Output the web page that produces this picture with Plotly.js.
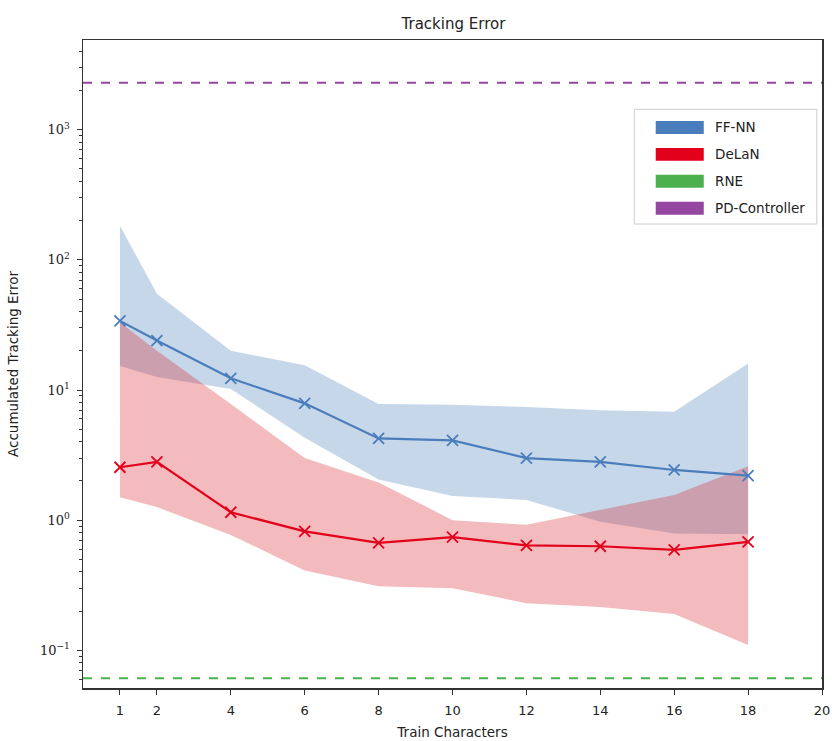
<!DOCTYPE html>
<html>
<head>
<meta charset="utf-8">
<script src="https://cdn.plot.ly/plotly-3.0.1.min.js"></script>
<style>html,body{margin:0;padding:0;background:#fff;}#chart{width:832px;height:741px;}</style>
</head>
<body>
<div id="chart"></div>
<script>
// ---- data ----
const trainChars = [1, 2, 4, 6, 8, 10, 12, 14, 16, 18];
const ffnnMean  = [34, 24, 12.3, 7.9, 4.25, 4.1, 3.0, 2.8, 2.43, 2.2];
const ffnnUpper = [183, 55, 20, 15.5, 7.8, 7.7, 7.4, 7.0, 6.8, 16];
const ffnnLower = [15.3, 12.6, 10.2, 4.3, 2.05, 1.53, 1.43, 0.97, 0.79, 0.78];
const delanMean  = [2.55, 2.8, 1.15, 0.82, 0.67, 0.74, 0.64, 0.63, 0.59, 0.68];
const delanUpper = [33, 20, 7.8, 3.0, 1.95, 1.0, 0.92, 1.2, 1.56, 2.6];
const delanLower = [1.5, 1.26, 0.77, 0.41, 0.31, 0.3, 0.23, 0.215, 0.19, 0.11];
const rneValue = 0.061;
const pdValue = 2300;
const xRange = [0, 20];
const xTicks = [1, 2, 4, 6, 8, 10, 12, 14, 16, 18, 20];
const yTickVals = [0.1, 1, 10, 100, 1000];
const yTickText = ['10<sup>−1</sup>', '10<sup>0</sup>', '10<sup>1</sup>', '10<sup>2</sup>', '10<sup>3</sup>'];
const legendNames = ['FF-NN', 'DeLaN', 'RNE', 'PD-Controller'];

// ---- styles ----
const cBlue = '#4a7dbb', cRed = '#e3001b', cGreen = '#4cb04f', cPurple = '#9446a0';
const fBlue = 'rgba(74,125,187,0.31)', fRed = 'rgba(215,30,40,0.3)';

const minorVals = [];
for (let e = -2; e <= 3; e++) for (let m = 2; m <= 9; m++) minorVals.push(m * Math.pow(10, e));

const traces = [
  {x: trainChars, y: ffnnUpper, mode: 'lines', line: {width: 0}, hoverinfo: 'skip', showlegend: false},
  {x: trainChars, y: ffnnLower, mode: 'lines', line: {width: 0}, fill: 'tonexty', fillcolor: fBlue, hoverinfo: 'skip', showlegend: false},
  {x: trainChars, y: delanUpper, mode: 'lines', line: {width: 0}, hoverinfo: 'skip', showlegend: false},
  {x: trainChars, y: delanLower, mode: 'lines', line: {width: 0}, fill: 'tonexty', fillcolor: fRed, hoverinfo: 'skip', showlegend: false},
  {x: xRange, y: [pdValue, pdValue], mode: 'lines', line: {color: cPurple, width: 2, dash: 'dash'}, showlegend: false},
  {x: xRange, y: [rneValue, rneValue], mode: 'lines', line: {color: cGreen, width: 2, dash: 'dash'}, showlegend: false},
  {x: trainChars, y: ffnnMean, mode: 'lines+markers', line: {color: cBlue, width: 2.2},
   marker: {symbol: 'x-thin', size: 11, line: {color: cBlue, width: 1.8}}, showlegend: false},
  {x: trainChars, y: delanMean, mode: 'lines+markers', line: {color: cRed, width: 2.2},
   marker: {symbol: 'x-thin', size: 11, line: {color: cRed, width: 1.8}}, showlegend: false}
];

// manual legend (paper coordinates)
const legendColors = [cBlue, cRed, cGreen, cPurple];
const shapes = [{type: 'rect', xref: 'paper', yref: 'paper', x0: 0.746, x1: 0.993, y0: 0.716, y1: 0.893,
  line: {color: '#cccccc', width: 1}, fillcolor: 'rgba(255,255,255,0.9)', layer: 'above'}];
const annotations = [];
legendNames.forEach((n, i) => {
  const yc = 0.865 - i * 0.0415;
  shapes.push({type: 'rect', xref: 'paper', yref: 'paper', x0: 0.775, x1: 0.84, y0: yc - 0.01, y1: yc + 0.01,
    line: {width: 0}, fillcolor: legendColors[i], layer: 'above'});
  annotations.push({xref: 'paper', yref: 'paper', x: 0.852, y: yc, xanchor: 'left', yanchor: 'middle',
    text: n, showarrow: false, font: {family: 'DejaVu Sans', size: 13.5, color: '#222'}});
});

const layout = {
  width: 832, height: 741,
  margin: {l: 83, r: 10, t: 40, b: 53},
  paper_bgcolor: '#fff', plot_bgcolor: '#fff',
  title: {text: 'Tracking Error', x: 0.545, xanchor: 'center', y: 0.975, font: {family: 'DejaVu Sans', size: 15, color: '#222'}},
  xaxis: {
    range: xRange, tickvals: xTicks, ticks: 'outside', ticklen: 5, tickcolor: '#333',
    showline: true, linecolor: '#333', linewidth: 1.5, mirror: true, showgrid: false, zeroline: false,
    ticklabelstandoff: 5,
    tickfont: {family: 'DejaVu Sans', size: 13, color: '#222'},
    title: {text: 'Train Characters', font: {family: 'DejaVu Sans', size: 13.5, color: '#222'}, standoff: 10}
  },
  yaxis: {
    type: 'log', range: [-1.29, 3.69], tickvals: yTickVals, ticktext: yTickText,
    ticks: 'outside', ticklen: 5, tickcolor: '#333',
    minor: {tickvals: minorVals, ticks: 'outside', ticklen: 3, tickcolor: '#333', showgrid: false},
    showline: true, linecolor: '#333', linewidth: 1.5, mirror: true, showgrid: false, zeroline: false,
    ticklabelstandoff: 4,
    tickfont: {family: 'DejaVu Serif', size: 13, color: '#222'},
    title: {text: 'Accumulated Tracking Error', font: {family: 'DejaVu Sans', size: 13.5, color: '#222'}, standoff: 18}
  },
  shapes: shapes,
  annotations: annotations,
  showlegend: false
};

Plotly.newPlot('chart', traces, layout, {displayModeBar: false, staticPlot: true});
</script>
</body>
</html>
